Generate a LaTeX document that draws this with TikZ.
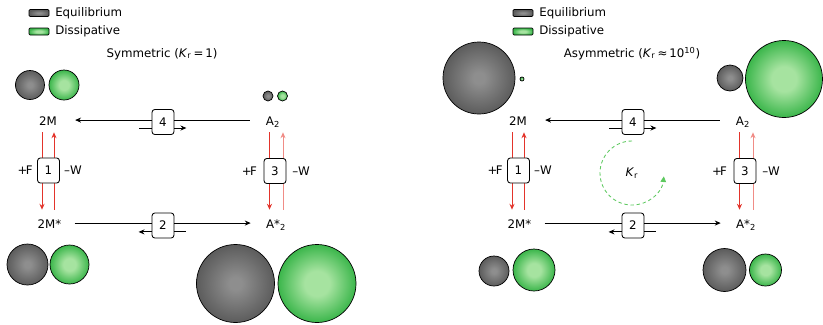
\documentclass[tikz,border=0pt]{standalone}
\usepackage{fontspec}
\setmainfont{DejaVu Sans}
\usetikzlibrary{arrows.meta,positioning}

\definecolor{eqIn}{HTML}{8E8E8E}
\definecolor{eqOut}{HTML}{5C5C5C}
\definecolor{dsIn}{HTML}{A6E3A0}
\definecolor{dsOut}{HTML}{3BB64B}
\definecolor{feedRed}{HTML}{E3342B}
\definecolor{backRed}{HTML}{F08C86}
\definecolor{krGreen}{HTML}{5CC85E}

\pgfdeclareradialshading{eqshade}{\pgfpointorigin}{color(0bp)=(eqIn); color(4bp)=(eqIn); color(25bp)=(eqOut); color(50bp)=(eqOut)}
\pgfdeclareradialshading{dsshade}{\pgfpointorigin}{color(0bp)=(dsIn); color(8bp)=(dsIn); color(25bp)=(dsOut); color(50bp)=(dsOut)}

\tikzset{
  eqball/.style={shading=eqshade, draw=black, line width=0.5pt},
  dsball/.style={shading=dsshade, draw=black, line width=0.5pt},
  species/.style={inner sep=0pt, anchor=base, text height=7.5pt, text depth=0.5pt},
  stepnum/.style={draw, rounded corners=2pt, fill=white, inner sep=0pt,
    minimum width=15.6pt, minimum height=17.8pt, line width=0.6pt},
  link/.style={-{Stealth[length=4.2pt,width=3.6pt]}, line width=0.6pt},
  feed/.style={link, draw=feedRed, color=feedRed, line width=0.7pt},
}

\begin{document}
\begin{tikzpicture}[x=0.025cm, y=0.025cm, font=\fontsize{8.4}{10}\selectfont]
\useasboundingbox (0,0) rectangle (823,-324);

% legends
\foreach \k/\lx in {L/29,R/513} {
  \shadedraw[eqball, rounded corners=0.8pt] (\lx,-9.5) rectangle ++(20,-7);
  \shadedraw[dsball, rounded corners=0.8pt] (\lx,-28) rectangle ++(20,-7);
  \node[anchor=base west, inner sep=0pt] (keyEq\k) at (\lx+26,-16.7) {Equilibrium};
  \node[anchor=base west, inner sep=0pt] (keyDs\k) at (\lx+26,-34.7) {Dissipative};
}
\node[anchor=base] (titleL) at (162,-57) {Symmetric (\textit{K}\textsubscript{r}\,=\,1)};
\node[anchor=base] (titleR) at (632,-57) {Asymmetric (\textit{K}\textsubscript{r}\,≈\,10\textsuperscript{10})};

% populations, symmetric
\shadedraw[eqball] (30,-85) circle[radius=14.5];
\shadedraw[dsball] (64,-85) circle[radius=15];
\shadedraw[eqball] (268,-96) circle[radius=5];
\shadedraw[dsball] (282.5,-96) circle[radius=5];
\shadedraw[eqball] (27.5,-264.5) circle[radius=20.5];
\shadedraw[dsball] (69.5,-264.5) circle[radius=19.5];
\shadedraw[eqball] (235.5,-283.5) circle[radius=39];
\shadedraw[dsball] (317,-283.5) circle[radius=39];

% populations, asymmetric
\shadedraw[eqball] (479,-78) circle[radius=36];
\shadedraw[dsball] (522,-79) circle[radius=2];
\shadedraw[eqball] (730,-78) circle[radius=13];
\shadedraw[dsball] (784,-79) circle[radius=38.5];
\shadedraw[eqball] (494,-271) circle[radius=15];
\shadedraw[dsball] (534,-270) circle[radius=21];
\shadedraw[eqball] (724.5,-270) circle[radius=21.5];
\shadedraw[dsball] (765.5,-270) circle[radius=16];

% reaction cycles
\foreach \p/\dx in {L/0,R/470} {
\begin{scope}[xshift=\dx*0.025cm]
  \node[species] (m2\p) at (48,-125) {2M};
  \node[species] (a2\p) at (273,-125) {A\textsubscript{2}};
  \node[species] (ms\p) at (49.5,-228) {2M*};
  \node[species] (as\p) at (276,-228) {A*\textsubscript{2}};

  \draw[link, shorten <=11.4pt, shorten >=12.8pt] (a2\p) -- (m2\p);
  \draw[link, shorten <=9.2pt, shorten >=10.7pt] (ms\p) -- (as\p);

  \draw[feed, shorten <=4.5pt, shorten >=5.3pt] ([xshift=-0.15cm]m2\p.south) -- ([xshift=-0.15cm]m2\p.south |- ms\p.north);
  \draw[feed, shorten <=5.3pt, shorten >=4.5pt] ([xshift=0.15cm]m2\p.south |- ms\p.north) -- ([xshift=0.15cm]m2\p.south);
  \draw[feed, shorten <=4.5pt, shorten >=5.3pt] ([xshift=-0.0875cm]a2\p.south) -- ([xshift=-0.0875cm]a2\p.south |- as\p.north);
  \draw[feed, draw=backRed, color=backRed, shorten <=5.3pt, shorten >=4.5pt] ([xshift=0.25cm]a2\p.south |- as\p.north) -- ([xshift=0.25cm]a2\p.south);

  \node[stepnum] (b4\p) at (163,-122) {4};
  \node[stepnum] (b2\p) at (163,-225.5) {2};
  \node[stepnum] (b1\p) at (48.5,-170.5) {1};
  \node[stepnum] (b3\p) at (275,-171) {3};

  \draw[line width=0.6pt] ([yshift=-0.15cm]b4\p.west) -- ++(-13,0);
  \draw[link] ([yshift=-0.15cm]b4\p.east) -- ++(12,0);
  \draw[link] ([yshift=-0.16cm]b2\p.west) -- ++(-13,0);
  \draw[line width=0.6pt] ([yshift=-0.16cm]b2\p.east) -- ++(12,0);

  \node[left=3pt of b1\p, inner sep=0pt] (f1\p) {+\kern-1.2pt F};
  \node[right=2.8pt of b1\p, inner sep=0pt] (w1\p) {–W};
  \node[left=4.5pt of b3\p, inner sep=0pt] (f3\p) {+\kern-1.2pt F};
  \node[right=4pt of b3\p, inner sep=0pt] (w3\p) {–W};
\end{scope}
}

% cycle constant
\node (kr) at (632,-173) {\textit{K}\textsubscript{r}};
\draw[krGreen, line width=0.6pt, dash pattern=on 2.4pt off 2pt, -{Triangle[length=4pt,width=4pt]}]
  ([shift={(0,32)}]kr.center) arc[start angle=90, end angle=354, radius=32];
\end{tikzpicture}
\end{document}
